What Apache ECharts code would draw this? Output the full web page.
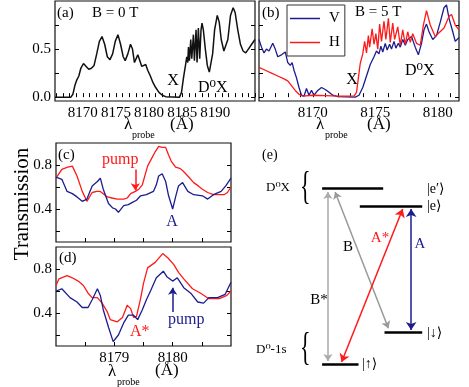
<!DOCTYPE html>
<html>
<head>
<meta charset="utf-8">
<script src="https://cdn.jsdelivr.net/npm/echarts@6/dist/echarts.min.js"></script>
<style>
  html, body { margin: 0; padding: 0; background: #fff; }
  #myChart { width: 469px; height: 387px; }
</style>
</head>
<body>
<div id="myChart"></div>
<script>
// (a) B = 0 T, one curve
const aCurve = [[8165.8,0],[8168.2,0],[8168.5,0.03],[8168.8,0.12],[8169.1,0.18],[8169.4,0.22],[8169.7,0.3],[8170.1,0.35],
  [8170.5,0.32],[8170.9,0.29],[8171.3,0.3],[8171.7,0.33],[8172.1,0.45],[8172.5,0.58],[8172.9,0.63],[8173.3,0.55],
  [8173.7,0.42],[8174.1,0.39],[8174.5,0.45],[8174.9,0.58],[8175.3,0.65],[8175.7,0.55],[8176.1,0.42],[8176.4,0.38],
  [8176.8,0.45],[8177.2,0.55],[8177.5,0.5],[8177.8,0.36],[8178.0,0.34],[8178.3,0.44],[8178.6,0.38],[8178.9,0.32],
  [8179.2,0.33],[8179.5,0.34],[8179.8,0.28],[8180.2,0.22],[8180.6,0.15],[8181.0,0.1],[8181.5,0.05],[8182.0,0.02],
  [8182.5,0.005],[8184.6,0],[8184.9,0.05],[8185.2,0.2],[8185.5,0.33],[8185.7,0.42],[8185.85,0.36],[8185.95,0.52],
  [8186.1,0.38],[8186.3,0.6],[8186.45,0.4],[8186.7,0.65],[8186.85,0.38],[8187.1,0.7],[8187.25,0.36],[8187.45,0.72],
  [8187.65,0.4],[8187.85,0.7],[8188.0,0.77],[8188.2,0.7],[8188.5,0.5],[8188.8,0.33],[8189.1,0.26],[8189.3,0.27],
  [8189.6,0.45],[8189.9,0.7],[8190.3,0.85],[8190.6,0.78],[8190.9,0.6],[8191.3,0.48],[8191.6,0.47],[8191.9,0.6],
  [8192.3,0.85],[8192.7,0.93],[8193.0,0.88],[8193.4,0.7],[8193.8,0.55],[8194.2,0.48],[8194.6,0.46],[8195.0,0.5],
  [8195.5,0.55],[8196.0,0.6]];

// (b) B = 5 T, V and H polarisation
const bV = [[8165.7,0.6],[8165.9,0.52],[8166.1,0.46],[8166.3,0.5],[8166.5,0.48],[8166.8,0.56],[8167.0,0.5],[8167.2,0.42],
  [8167.5,0.44],[8167.8,0.47],[8168.0,0.36],[8168.2,0.33],[8168.35,0.36],[8168.5,0.28],[8168.7,0.2],[8168.9,0.1],
  [8169.1,0.02],[8169.3,0.01],[8169.5,0.09],[8169.7,0.02],[8169.9,0.07],[8170.1,0.02],[8170.4,0.07],[8170.7,0.1],
  [8171.0,0.08],[8171.3,0.05],[8171.6,0.02],[8172.0,0.005],[8173.4,0],[8173.7,0.02],[8174.0,0.1],[8174.3,0.22],
  [8174.6,0.34],[8174.9,0.42],[8175.1,0.48],[8175.3,0.45],[8175.45,0.53],[8175.6,0.47],[8175.8,0.56],[8175.95,0.49],
  [8176.15,0.55],[8176.3,0.5],[8176.5,0.58],[8176.65,0.51],[8176.85,0.56],[8177.0,0.52],[8177.2,0.6],[8177.4,0.54],
  [8177.6,0.6],[8177.9,0.63],[8178.2,0.52],[8178.45,0.44],[8178.7,0.56],[8178.9,0.7],[8179.1,0.76],[8179.3,0.68],
  [8179.6,0.6],[8179.9,0.64],[8180.2,0.78],[8180.5,0.93],[8180.7,0.96],[8180.9,0.82],[8181.2,0.68],[8181.4,0.58],
  [8181.7,0.62]];
const bH = [[8165.7,0.31],[8166.2,0.28],[8166.7,0.25],[8167.2,0.22],[8167.7,0.19],[8168.0,0.17],[8168.3,0.12],[8168.6,0.07],
  [8168.9,0.03],[8169.2,0.01],[8170.0,0.02],[8171.0,0.015],[8172.0,0.01],[8173.3,0.01],[8173.5,0.05],[8173.65,0.2],
  [8173.8,0.35],[8174.0,0.45],[8174.15,0.58],[8174.3,0.46],[8174.45,0.64],[8174.55,0.52],[8174.75,0.71],[8174.9,0.55],
  [8175.05,0.66],[8175.2,0.5],[8175.35,0.76],[8175.5,0.58],[8175.7,0.79],[8175.85,0.6],[8176.05,0.82],[8176.2,0.57],
  [8176.4,0.77],[8176.55,0.6],[8176.8,0.73],[8177.0,0.54],[8177.2,0.7],[8177.4,0.55],[8177.6,0.68],[8177.8,0.57],
  [8178.0,0.66],[8178.3,0.56],[8178.6,0.54],[8178.85,0.75],[8179.1,0.9],[8179.4,0.75],[8179.8,0.63],[8180.1,0.67],
  [8180.5,0.72],[8180.9,0.84],[8181.1,0.86],[8181.4,0.75],[8181.7,0.7]];

// (c) pump on A* line, (d) pump on A line
const cRed = [[8178.0,0.68],[8178.1,0.76],[8178.2,0.78],[8178.28,0.79],[8178.36,0.7],[8178.45,0.56],[8178.53,0.47],
  [8178.62,0.55],[8178.7,0.56],[8178.76,0.56],[8178.88,0.51],[8178.96,0.5],[8179.05,0.49],[8179.16,0.49],[8179.22,0.5],
  [8179.28,0.54],[8179.36,0.56],[8179.42,0.58],[8179.48,0.62],[8179.57,0.79],[8179.64,0.86],[8179.7,0.92],[8179.76,0.97],
  [8179.82,0.96],[8179.88,0.96],[8179.93,0.89],[8179.98,0.83],[8180.05,0.78],[8180.12,0.77],[8180.17,0.75],[8180.26,0.7],
  [8180.36,0.64],[8180.44,0.61],[8180.51,0.58],[8180.6,0.55],[8180.7,0.53],[8180.77,0.53],[8180.88,0.53],[8180.94,0.55],
  [8181.0,0.6]];
const cBlue = [[8178.0,0.69],[8178.1,0.67],[8178.19,0.56],[8178.28,0.54],[8178.36,0.51],[8178.45,0.47],[8178.53,0.49],
  [8178.62,0.61],[8178.71,0.65],[8178.76,0.68],[8178.81,0.58],[8178.9,0.45],[8178.97,0.41],[8179.02,0.4],[8179.07,0.37],
  [8179.16,0.43],[8179.24,0.44],[8179.31,0.46],[8179.38,0.48],[8179.45,0.52],[8179.55,0.53],[8179.67,0.56],[8179.72,0.62],
  [8179.76,0.7],[8179.82,0.72],[8179.88,0.65],[8179.93,0.52],[8180.0,0.4],[8180.05,0.51],[8180.1,0.61],[8180.17,0.64],
  [8180.26,0.56],[8180.36,0.53],[8180.51,0.52],[8180.6,0.49],[8180.7,0.53],[8180.83,0.56],[8180.91,0.61],[8181.0,0.68]];
const dRed = [[8178.0,0.65],[8178.05,0.71],[8178.19,0.74],[8178.28,0.72],[8178.38,0.69],[8178.47,0.65],[8178.55,0.58],
  [8178.62,0.54],[8178.71,0.54],[8178.79,0.49],[8178.88,0.41],[8178.93,0.34],[8179.05,0.32],[8179.14,0.36],[8179.22,0.47],
  [8179.28,0.44],[8179.33,0.36],[8179.38,0.37],[8179.45,0.53],[8179.5,0.67],[8179.57,0.81],[8179.7,0.86],[8179.83,0.94],
  [8179.92,0.9],[8180.02,0.84],[8180.1,0.77],[8180.19,0.71],[8180.34,0.62],[8180.48,0.58],[8180.62,0.53],[8180.8,0.53],
  [8180.93,0.56],[8181.0,0.6]];
const dBlue = [[8178.0,0.6],[8178.1,0.62],[8178.24,0.54],[8178.36,0.5],[8178.45,0.45],[8178.55,0.45],[8178.62,0.52],
  [8178.71,0.62],[8178.76,0.56],[8178.81,0.43],[8178.9,0.27],[8178.98,0.14],[8179.07,0.2],[8179.16,0.31],[8179.24,0.38],
  [8179.33,0.38],[8179.4,0.34],[8179.48,0.43],[8179.55,0.52],[8179.62,0.6],[8179.72,0.72],[8179.84,0.78],[8179.9,0.73],
  [8180.0,0.69],[8180.08,0.72],[8180.19,0.63],[8180.31,0.58],[8180.43,0.5],[8180.53,0.49],[8180.62,0.54],[8180.77,0.54],
  [8180.9,0.57],[8181.0,0.68]];
const cPump = [[8179.36,0.76],[8179.36,0.57]]; // red arrow in (c)
const dPump = [[8180.0,0.41],[8180.0,0.63]];   // blue arrow in (d)

// tick labels
const abYLabels = [0, 0.5];
const abYTicks = [0, 0.25, 0.5, 0.75];
const aXLabels = [8170, 8175, 8180, 8185, 8190];
const bXLabels = [8170, 8175, 8180];
const cdXLabels = [8179, 8180];
const cdYLabels = [0.4, 0.8];
const cdYTicks = [0.2, 0.4, 0.6, 0.8];

// (e) level scheme: [x start, x end, energy]
const eLevels = [[1.7, 6.4, 9.58], [4.6, 9.4, 8.63], [6.5, 9.4, 2.0], [1.7, 4.5, 0.32]];
const eB = [[2.7, 9.37], [6.8, 2.2]];
const eBstar = [[2.15, 9.37], [2.15, 0.47]];
const eAstar = [[7.9, 8.47], [3.2, 0.42]];
const eA = [[8.55, 8.47], [8.55, 2.1]];

const RED = "#ff1a1a";
const BLUE = "#1c1c8f";
const FONT = "'Liberation Serif', 'DejaVu Serif', serif";

function steps(a, b, s) {
  const out = [];
  for (let v = a; v <= b + 1e-9; v += s) out.push(+v.toFixed(2));
  return out;
}

function xAx(grid, min, max, labels, ticks) {
  return {
    type: "value", gridIndex: grid, min: min, max: max,
    axisLine: { show: false },
    splitLine: { show: false },
    axisTick: { show: true, inside: true, length: 4, customValues: ticks, lineStyle: { color: "#000" } },
    axisLabel: { show: labels.length > 0, customValues: labels, margin: 5, color: "#000", fontFamily: FONT, fontSize: 15,
      formatter: (v) => String(v) },
  };
}
function yAx(grid, min, max, labels, ticks, pos, fmt) {
  return {
    type: "value", gridIndex: grid, min: min, max: max, position: pos,
    axisLine: { show: false },
    splitLine: { show: false },
    axisTick: { show: true, inside: true, length: 4, customValues: ticks, lineStyle: { color: "#000" } },
    axisLabel: { show: labels.length > 0, customValues: labels, margin: 4, color: "#000", fontFamily: FONT, fontSize: 15,
      formatter: (v) => v.toFixed(fmt) },
  };
}
function curve(name, data, xi, yi, color, width) {
  return {
    name: name, type: "line", xAxisIndex: xi, yAxisIndex: yi, data: data,
    showSymbol: false, symbol: "none", smooth: false, silent: true,
    lineStyle: { color: color, width: width || 1.3 }, itemStyle: { color: color },
  };
}
function arrowLine(data, xi, yi, color, sym, size) {
  return {
    type: "lines", coordinateSystem: "cartesian2d", xAxisIndex: xi, yAxisIndex: yi, silent: true,
    symbol: sym, symbolSize: size || 7,
    lineStyle: { color: color, width: 1.5, opacity: 1 },
    data: [{ coords: data }],
  };
}
function txt(x, y, s, opt) {
  opt = opt || {};
  return {
    type: "text", x: x, y: y, silent: true, scaleX: opt.scaleX || 1,
    style: {
      text: s, fill: opt.color || "#000", align: opt.align || "left", verticalAlign: "middle",
      font: (opt.size || 14) + "px " + FONT,
    },
  };
}

const chart = echarts.init(document.getElementById("myChart"));
const box = { show: true, borderColor: "#111", borderWidth: 1.2, backgroundColor: "transparent", containLabel: false };

const option = {
  animation: false,
  backgroundColor: "#fff",
  grid: [
    Object.assign({ left: 55, top: 1, width: 200, height: 100 }, box),
    Object.assign({ left: 259, top: 1, width: 200, height: 100 }, box),
    Object.assign({ left: 56, top: 143, width: 175, height: 99 }, box),
    Object.assign({ left: 56, top: 247, width: 175, height: 99 }, box),
    { left: 300, top: 180, width: 130, height: 190, show: false },
  ],
  xAxis: [
    xAx(0, 8165.8, 8196, aXLabels, steps(8166, 8196, 1)),
    xAx(1, 8165.7, 8181.7, bXLabels, steps(8166, 8181, 1)),
    xAx(2, 8178, 8181, [], steps(8178.5, 8180.5, 0.5)),
    xAx(3, 8178, 8181, cdXLabels, steps(8178.5, 8180.5, 0.5)),
    { type: "value", gridIndex: 4, min: 0, max: 10, show: false },
  ],
  yAxis: [
    yAx(0, -0.04, 1.0, abYLabels, abYTicks, "left", 1),
    yAx(0, -0.04, 1.0, [], abYTicks, "right", 1),
    yAx(1, -0.04, 1.0, [], abYTicks, "left", 1),
    yAx(1, -0.04, 1.0, [], abYTicks, "right", 1),
    yAx(2, 0.1, 1.0, cdYLabels, cdYTicks, "left", 1),
    yAx(2, 0.1, 1.0, [], cdYTicks, "right", 1),
    yAx(3, 0.1, 1.0, cdYLabels, cdYTicks, "left", 1),
    yAx(3, 0.1, 1.0, [], cdYTicks, "right", 1),
    { type: "value", gridIndex: 4, min: 0, max: 10, show: false },
  ],
  legend: {
    data: [{ name: "V", icon: "rect" }, { name: "H", icon: "rect" }],
    orient: "vertical", left: 287, top: 5,
    borderColor: "#333", borderWidth: 1, borderRadius: 0, padding: [6, 5, 6, 3], itemGap: 9,
    itemWidth: 30, itemHeight: 1.5,
    textStyle: { fontFamily: FONT, fontSize: 15, color: "#000", padding: [0, 0, 0, 4] },
  },
  series: [
    curve("a", aCurve, 0, 0, "#111", 1.5),
    curve("V", bV, 1, 2, BLUE),
    curve("H", bH, 1, 2, RED),
    curve("c-pump", cRed, 2, 4, RED),
    curve("c-probe", cBlue, 2, 4, BLUE),
    curve("d-pump", dRed, 3, 6, RED),
    curve("d-probe", dBlue, 3, 6, BLUE),
    arrowLine(cPump, 2, 4, RED, ["none", "arrow"]),
    arrowLine(dPump, 3, 6, BLUE, ["none", "arrow"]),
    {
      type: "lines", coordinateSystem: "cartesian2d", xAxisIndex: 4, yAxisIndex: 8, silent: true,
      symbol: "none", lineStyle: { color: "#000", width: 2.5, opacity: 1 },
      data: eLevels.map((l) => ({ coords: [[l[0], l[2]], [l[1], l[2]]] })),
    },
    arrowLine(eBstar, 4, 8, "#aaa", ["arrow", "arrow"], 7),
    arrowLine(eB, 4, 8, "#999", ["arrow", "arrow"], 7),
    arrowLine(eAstar, 4, 8, RED, ["arrow", "arrow"], 8),
    arrowLine(eA, 4, 8, BLUE, ["arrow", "arrow"], 8),
  ],
  graphic: [
    // panel (a)
    txt(57, 13, "(a)", { size: 15 }), txt(92, 13, "B = 0 T", { size: 15 }),
    txt(173, 81, "X", { size: 16, align: "center" }),
    txt(198, 88, "D\u2070X", { size: 16 }),
    txt(128, 125, "\u03bb", { size: 17, align: "center" }),
    txt(132, 135, "probe", { size: 10 }),
    txt(170, 125, "(\u00c5)", { size: 17 }),
    // panel (b)
    txt(262, 13, "(b)", { size: 15 }), txt(355, 12, "B = 5 T", { size: 15 }),
    txt(352, 80, "X", { size: 16, align: "center" }),
    txt(405, 71, "D\u2070X", { size: 16 }),
    txt(320, 125, "\u03bb", { size: 17, align: "center" }),
    txt(325, 135, "probe", { size: 10 }),
    txt(367, 125, "(\u00c5)", { size: 17 }),
    // panels (c) and (d)
    {
      type: "text", x: 22, y: 204, rotation: Math.PI / 2, silent: true,
      style: { text: "Transmission", fill: "#000", align: "center", verticalAlign: "middle", font: "21px " + FONT },
    },
    txt(58, 155, "(c)", { size: 15 }),
    txt(102, 160, "pump", { color: RED, size: 16 }),
    txt(172, 222, "A", { color: BLUE, size: 16, align: "center" }),
    txt(59, 258, "(d)", { size: 15 }),
    txt(130, 332, "A*", { color: RED, size: 16 }),
    txt(168, 320, "pump", { color: BLUE, size: 16 }),
    txt(112, 372, "\u03bb", { size: 17, align: "center" }),
    txt(117, 382, "probe", { size: 10 }),
    txt(155, 371, "(\u00c5)", { size: 17 }),
    // panel (e)
    txt(262, 155, "(e)", { size: 14 }),
    txt(266, 188, "D\u2070X", { size: 13 }),
    txt(300, 188, "{", { size: 40, scaleX: 0.55 }),
    txt(256, 350, "D\u2070-1s", { size: 13 }),
    txt(300, 349, "{", { size: 40, scaleX: 0.55 }),
    txt(427, 189, "|e\u2032\u27e9", { size: 14 }),
    txt(427, 206, "|e\u27e9", { size: 14 }),
    txt(427, 333, "|\u2193\u27e9", { size: 14 }),
    txt(362, 364, "|\u2191\u27e9", { size: 14 }),
    txt(348, 247, "B", { size: 15, align: "center" }),
    txt(380, 238, "A*", { size: 15, align: "center", color: RED }),
    txt(420, 244, "A", { size: 15, align: "center", color: BLUE }),
    txt(319, 300, "B*", { size: 15, align: "center" }),
  ],
};
chart.setOption(option);
</script>
</body>
</html>
